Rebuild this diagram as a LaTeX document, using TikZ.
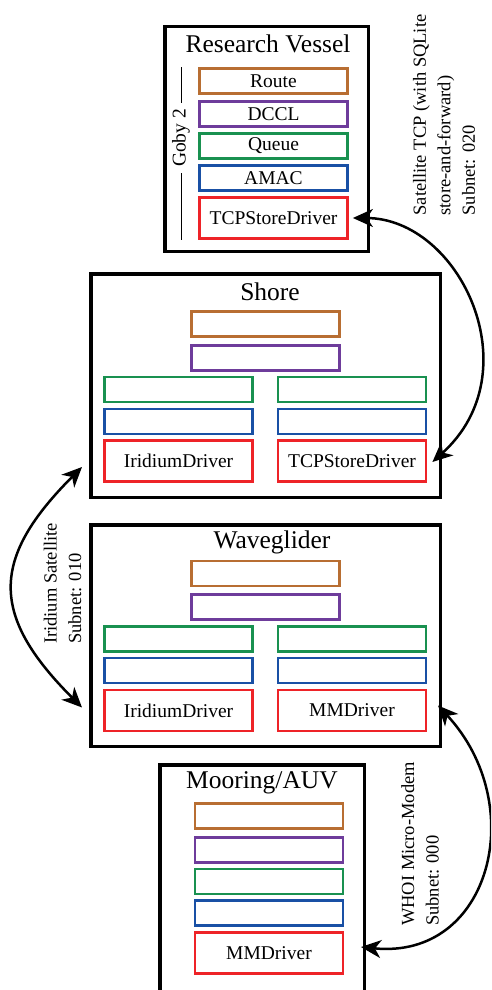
\documentclass[tikz,border=0pt]{standalone}
\usepackage{fontspec}
\setmainfont{Liberation Serif}
\definecolor{routeorange}{RGB}{184,110,50}
\definecolor{dcclpurple}{RGB}{110,60,155}
\definecolor{queuegreen}{RGB}{25,145,80}
\definecolor{amacblue}{RGB}{25,80,165}
\definecolor{driverred}{RGB}{238,35,40}
\usepackage{tikz}
\usetikzlibrary{arrows.meta, positioning, calc}
\newcommand{\titlefont}{\fontsize{25.5}{30}\selectfont}
\newcommand{\layerfont}{\fontsize{19.5}{23}\selectfont}
\newcommand{\linkfont}{\fontsize{18.5}{24.5}\selectfont}
\tikzset{
  hostbox/.style={draw=black, line width=3.5pt, inner sep=0pt},
  hosttitle/.style={font=\titlefont, inner sep=0pt},
  layerbox/.style={draw=#1, line width=2.8pt, minimum width=148pt, minimum height=25pt, inner sep=0pt, font=\layerfont},
  drvbox/.style={layerbox=driverred, minimum height=41pt},
  linklabel/.style={rotate=90, align=left, font=\linkfont, inner sep=0pt},
  link/.style={line width=2.5pt, {Stealth[length=20pt, width=18pt, inset=6pt]}-{Stealth[length=20pt, width=18pt, inset=6pt]}}
}

\begin{document}
\begin{tikzpicture}[x=1pt, y=-1pt]
  \useasboundingbox (0,0) rectangle (491,990);
  \clip (0,0) rectangle (491,990);

  % Research vessel
  \node[hostbox, minimum width=203.5pt, minimum height=224.5pt] (vessel) at (266.5, 139) {};
  \node[hosttitle] (vtitle) at (268, 44) {Research Vessel};
  \node[layerbox=routeorange] (vroute) at (273.5, 81) {Route};
  \node[layerbox=dcclpurple] (vdccl) at (273.5, 114) {DCCL};
  \node[layerbox=queuegreen] (vqueue) at (273.5, 146) {Queue};
  \node[layerbox=amacblue] (vamac) at (273.5, 178) {AMAC};
  \node[drvbox] (vdrv) at (273.5, 218) {TCPStoreDriver};
  \node[rotate=90, font=\layerfont, inner sep=6pt] (goby) at (181, 138) {Goby 2};
  \draw[line width=1pt] (goby.east) -- (goby.east |- vroute.north);
  \draw[line width=1pt] (goby.west) -- (goby.west |- vdrv.south);

  % Shore
  \node[hostbox, minimum width=349.5pt, minimum height=223.5pt] (shore) at (265.5, 385.5) {};
  \node[hosttitle] (stitle) at (270, 292) {Shore};
  \node[layerbox=routeorange] (sroute) at (265.5, 324) {};
  \node[layerbox=dcclpurple] (sdccl) at (265.5, 358) {};
  \node[layerbox=queuegreen] (squeuel) at (178.5, 389.5) {};
  \node[layerbox=queuegreen] (squeuer) at (352, 389.5) {};
  \node[layerbox=amacblue] (samacl) at (178.5, 421.5) {};
  \node[layerbox=amacblue] (samacr) at (352, 421.5) {};
  \node[drvbox] (sdrvl) at (178.5, 461) {IridiumDriver};
  \node[drvbox] (sdrvr) at (352, 461) {TCPStoreDriver};

  % Waveglider
  \node[hostbox, minimum width=349.5pt, minimum height=221.5pt] (wave) at (265.5, 635.5) {};
  \node[hosttitle] (wtitle) at (272, 542) {Waveglider};
  \node[layerbox=routeorange] (wroute) at (265.5, 573.5) {};
  \node[layerbox=dcclpurple] (wdccl) at (265.5, 607) {};
  \node[layerbox=queuegreen] (wqueuel) at (178.5, 639) {};
  \node[layerbox=queuegreen] (wqueuer) at (352, 639) {};
  \node[layerbox=amacblue] (wamacl) at (178.5, 670.5) {};
  \node[layerbox=amacblue] (wamacr) at (352, 670.5) {};
  \node[drvbox] (wdrvl) at (178.5, 710.5) {IridiumDriver};
  \node[drvbox] (wdrvr) at (352, 710.5) {MMDriver};

  % Mooring / AUV
  \node[hostbox, minimum width=204.5pt, minimum height=243.5pt] (moor) at (262, 886.5) {};
  \node[hosttitle] (mtitle) at (262, 783) {Mooring/AUV};
  \node[layerbox=routeorange] (mroute) at (269, 816) {};
  \node[layerbox=dcclpurple] (mdccl) at (269, 850) {};
  \node[layerbox=queuegreen] (mqueue) at (269, 881.5) {};
  \node[layerbox=amacblue] (mamac) at (269, 913) {};
  \node[drvbox] (mdrv) at (269, 953) {MMDriver};

  % Links
  \draw[link] ([xshift=4pt]vdrv.east) .. controls +(107,0) and +(100,-90) .. ([xshift=5pt, yshift=-1pt]sdrvr.east);
  \node[linklabel] (satlabel) at (444, 115) {Satellite TCP (with SQLite\\store-and-forward)\\Subnet: 020};

  \draw[link] ($(shore.west |- sdrvl.west)+(-7,6)$) .. controls +(-92,92) and +(-92,-92) .. ($(wave.west |- wdrvl.west)+(-7,-3)$);
  \node[linklabel] (irlabel) at (62.5, 583.5) {Iridium Satellite\\Subnet: 010};

  \draw[link] ($(wave.east |- wdrvr.east)+(-4,-5)$) .. controls +(92,99) and +(130,13) .. ($(moor.east |- mdrv.east)+(-5,-6)$);
  \node[linklabel] (mmlabel) at (420, 844) {WHOI Micro-Modem\\Subnet: 000};
\end{tikzpicture}
\end{document}
